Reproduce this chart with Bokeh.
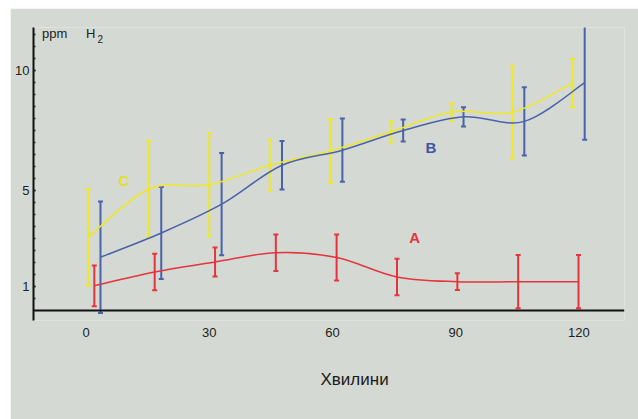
from bokeh.plotting import figure
from bokeh.models import ColumnDataSource, Whisker, TeeHead, Span, Label, FixedTicker, Range1d, Title, Spacer
from bokeh.layouts import row, column
from bokeh.embed import file_html
from bokeh.resources import INLINE

# ---------------- data ----------------
x_ticks = [0, 30, 60, 90, 120]
y_ticks = [1, 5, 10]
y_minor = [0.5, 1.0, 1.5, 2.0, 2.5, 3.0, 3.5, 4.0, 4.5, 5.0, 5.5, 6.0,
           6.5, 7.0, 7.5, 8.0, 8.5, 9.0, 9.5, 10.0, 10.5, 11.0, 11.5]

# series C (yellow)
t_C = [0.5, 15.3, 30.0, 44.7, 59.5, 74.3, 89.0, 103.8, 118.4]
C_mean = [3.05, 5.06, 5.24, 6.05, 6.65, 7.45, 8.27, 8.26, 9.48]
C_sd = [2.01, 2.01, 2.16, 1.06, 1.32, 0.45, 0.37, 1.92, 1.01]

# series A (red)
t_A = [2.0, 16.7, 31.4, 46.2, 61.0, 75.7, 90.4, 105.2, 119.9]
A_mean = [1.03, 1.60, 2.02, 2.41, 2.21, 1.40, 1.20, 1.20, 1.20]
A_sd = [0.85, 0.76, 0.60, 0.76, 0.96, 0.76, 0.35, 1.11, 1.11]

# series B (blue)
t_B = [3.5, 18.3, 33.0, 47.7, 62.4, 77.2, 91.9, 106.7, 121.4]
B_mean = [2.22, 3.23, 4.43, 6.05, 6.68, 7.50, 8.07, 7.88, 9.49]
B_sd = [2.32, 1.92, 2.13, 1.01, 1.32, 0.46, 0.40, 1.42, 2.38]

series_names = ["C", "B", "A"]

# ---------------- style / layout ----------------
BG = "#d4d9d3"
FONT = "Liberation Sans"
YELLOW = "#efe824"
BLUE = "#4a62aa"
RED = "#e6343e"
INK = "#222222"

# picture pixel -> data coordinates (used only to place texts and ranges)
def px2t(px):
    return (px - 85.6) / 4.107

def px2v(py):
    return (310.0 - py) / 24.0

p = figure(width=628, height=411, output_backend="svg", toolbar_location=None,
           x_range=Range1d(px2t(33), px2t(624)), y_range=Range1d(px2v(320), px2v(27)),
           min_border_left=23, min_border_right=14, min_border_top=19, min_border_bottom=99)
p.background_fill_color = BG
p.border_fill_color = BG
p.outline_line_color = None
p.xgrid.visible = False
p.ygrid.visible = False

# x axis: labels only (the axis line is a span at zero)
xa = p.xaxis[0]
xa.ticker = FixedTicker(ticks=x_ticks)
xa.axis_line_color = None
xa.major_tick_line_color = None
xa.minor_tick_line_color = None
xa.major_tick_in = 0
xa.major_tick_out = 0
xa.major_label_standoff = 7
xa.major_label_text_font = FONT
xa.major_label_text_font_size = "13px"
xa.major_label_text_color = INK

# y axis: line + short inward ticks
ya = p.yaxis[0]
ya.ticker = FixedTicker(ticks=y_ticks, minor_ticks=y_minor)
ya.axis_line_color = "#111111"
ya.axis_line_width = 2
ya.major_tick_in = 2
ya.major_tick_out = 0
ya.minor_tick_in = 2
ya.minor_tick_out = 0
ya.major_tick_line_color = INK
ya.minor_tick_line_color = INK
ya.major_tick_line_width = 1.5
ya.minor_tick_line_width = 1.5
ya.major_label_standoff = 4
ya.major_label_text_font = FONT
ya.major_label_text_font_size = "13px"
ya.major_label_text_color = INK

p.add_layout(Span(location=0, dimension="width", line_color="#111111", line_width=2))

# axis titles
p.add_layout(Label(x=px2t(41.5), y=px2v(33), text="ppm", text_align="left", text_baseline="middle",
                   text_font=FONT, text_font_size="13px", text_color=INK))
p.add_layout(Label(x=px2t(85.5), y=px2v(33), text="H", text_align="left", text_baseline="middle",
                   text_font=FONT, text_font_size="13px", text_color=INK))
p.add_layout(Label(x=px2t(97), y=px2v(38), text="2", text_align="left", text_baseline="middle",
                   text_font=FONT, text_font_size="10px", text_color=INK))
p.add_layout(Title(text="Хвилини", align="left", offset=287, standoff=56,
                   text_font=FONT, text_font_size="17px", text_font_style="normal",
                   text_color="#1a1a1a"), "below")


def smooth(ts, vs, color, width):
    n = len(ts)
    x0, y0, x1, y1, cx0, cy0, cx1, cy1 = [], [], [], [], [], [], [], []
    for i in range(n - 1):
        im = i - 1 if i > 0 else i
        ip = i + 2 if i + 2 < n else i + 1
        x0.append(ts[i]); y0.append(vs[i])
        x1.append(ts[i + 1]); y1.append(vs[i + 1])
        cx0.append(ts[i] + (ts[i + 1] - ts[im]) / 6.0)
        cy0.append(vs[i] + (vs[i + 1] - vs[im]) / 6.0)
        cx1.append(ts[i + 1] - (ts[ip] - ts[i]) / 6.0)
        cy1.append(vs[i + 1] - (vs[ip] - vs[i]) / 6.0)
    p.bezier(x0=x0, y0=y0, x1=x1, y1=y1, cx0=cx0, cy0=cy0, cx1=cx1, cy1=cy1,
             line_color=color, line_width=width)


def errorbars(ts, ms, sds, color):
    src = ColumnDataSource(dict(t=ts, lo=[m - s for m, s in zip(ms, sds)],
                                hi=[m + s for m, s in zip(ms, sds)]))
    w = Whisker(source=src, base="t", lower="lo", upper="hi", dimension="height",
                line_color=color, line_width=2,
                lower_head=TeeHead(size=5, line_color=color, line_width=2),
                upper_head=TeeHead(size=5, line_color=color, line_width=2))
    p.add_layout(w)


errorbars(t_C, C_mean, C_sd, YELLOW)
smooth(t_C, C_mean, YELLOW, 1.5)
errorbars(t_B, B_mean, B_sd, BLUE)
smooth(t_B, B_mean, BLUE, 1.5)
errorbars(t_A, A_mean, A_sd, RED)
smooth(t_A, A_mean, RED, 1.5)

for name, px, py, col in [("C", 123.3, 180, "#e6df28"), ("B", 430.5, 146.7, "#3e55a2"), ("A", 414.2, 237.2, RED)]:
    p.add_layout(Label(x=px2t(px), y=px2v(py), text=name, text_align="center", text_baseline="middle",
                       text_font=FONT, text_font_size="15px", text_font_style="bold", text_color=col))

layout = row(Spacer(width=10, height=419), column(Spacer(width=628, height=8), p))
open("out.html", "w").write(file_html(layout, INLINE))
